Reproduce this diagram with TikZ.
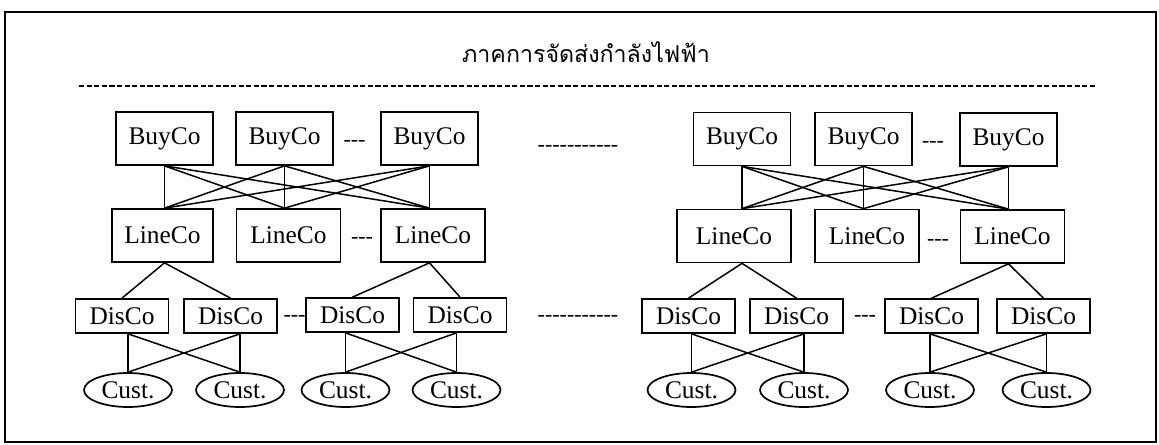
\documentclass[tikz,border=0pt]{standalone}
\usepackage{fontspec}
\setmainfont{Liberation Serif}
\newfontfamily\thaifont[Script=Thai]{Loma}
\usetikzlibrary{shapes.geometric}
% one hyphen, kept apart from the next so no dash ligature is formed
\newcommand{\shortdash}{-\kern0pt}

\begin{document}
\begin{tikzpicture}[
        x=0.5pt, y=-0.5pt, line width=0.75pt,
        co/.style={draw, rectangle, line width=0.85pt, inner sep=0pt,
          minimum height=26.5pt, font=\fontsize{12.7}{15}\selectfont},
        buyco/.style={co, minimum width=48.5pt},
        lineco/.style={co, minimum width=52pt},
        disco/.style={co, minimum width=46.5pt, minimum height=17pt},
        cust/.style={draw, ellipse, line width=0.85pt, inner sep=0pt,
          minimum width=44pt, minimum height=17pt, font=\fontsize{12.7}{15}\selectfont},
        gap/.style={inner sep=0pt, font=\fontsize{11}{13}\selectfont},
        ]
        \useasboundingbox (0,0) rectangle (1159,444);
        \draw[line width=1pt] (5,12.5) rectangle (1156,442);

        \node[anchor=base, font=\thaifont\fontsize{11.6}{14}\selectfont] (title) at (586,63) {ภาคการจัดส่งกำลังไฟฟ้า};
        \coordinate (sep_l) at (79,86);
        \coordinate (sep_r) at (1097,86);
        \draw[line width=1.1pt, dash pattern=on 2.6pt off 1.2pt] (sep_l) -- (sep_r);

        % left region
        \node[buyco]  (b_1) at (164.5,138.5) {BuyCo};
        \node[buyco]  (b_2) at (284.5,138.5) {BuyCo};
        \node[buyco]  (b_3) at (429.5,138.5) {BuyCo};
        \node[lineco, minimum width=50.5pt] (l_1) at (162.5,235.5) {LineCo};
        \node[lineco] (l_2) at (288.5,235.5) {LineCo};
        \node[lineco] (l_3) at (433,235.5)   {LineCo};
        \node[disco]  (d_1) at (122,316)     {DisCo};
        \node[disco]  (d_2) at (230.5,316)   {DisCo};
        \node[disco]  (d_3) at (352.5,315)   {DisCo};
        \node[disco]  (d_4) at (460,315)     {DisCo};
        \node[cust]   (c_1) at (128,390)     {Cust.};
        \node[cust]   (c_2) at (240,390)     {Cust.};
        \node[cust]   (c_3) at (345.5,390)   {Cust.};
        \node[cust]   (c_4) at (456.5,390)   {Cust.};
        \node[gap] (g_1) at (354.5,143) {\shortdash\shortdash\shortdash};
        \node[gap] (g_2) at (362,240)   {\shortdash\shortdash\shortdash};
        \node[gap] (g_3) at (294.5,318) {\shortdash\shortdash\shortdash};

        % right region
        \node[buyco]  (b_4) at (742,139)     {BuyCo};
        \node[buyco]  (b_5) at (863.5,139)   {BuyCo};
        \node[buyco]  (b_6) at (1008.5,139.5) {BuyCo};
        \node[lineco, minimum width=57pt] (l_4) at (734,236) {LineCo};
        \node[lineco] (l_5) at (867,236)     {LineCo};
        \node[lineco] (l_6) at (1012.5,236.5) {LineCo};
        \node[disco]  (d_5) at (688.5,316)   {DisCo};
        \node[disco]  (d_6) at (796.5,316)   {DisCo};
        \node[disco]  (d_7) at (931.5,316)   {DisCo};
        \node[disco]  (d_8) at (1043.5,316)  {DisCo};
        \node[cust]   (c_5) at (691.5,390)   {Cust.};
        \node[cust]   (c_6) at (804,390)     {Cust.};
        \node[cust]   (c_7) at (930,390)     {Cust.};
        \node[cust]   (c_8) at (1046.5,390)  {Cust.};
        \node[gap] (g_4) at (933,144) {\shortdash\shortdash\shortdash};
        \node[gap] (g_5) at (938,242) {\shortdash\shortdash\shortdash};
        \node[gap] (g_6) at (865,318) {\shortdash\shortdash\shortdash};

        % between the regions
        \node[gap] (m_1) at (578,148) {\shortdash\shortdash\shortdash\shortdash\shortdash\shortdash\shortdash\shortdash\shortdash\shortdash\shortdash};
        \node[gap] (m_2) at (578,318) {\shortdash\shortdash\shortdash\shortdash\shortdash\shortdash\shortdash\shortdash\shortdash\shortdash\shortdash};

        % every BuyCo to every LineCo of its region
        \foreach \i in {1,2,3}
          \foreach \j in {1,2,3}
            \draw (b_\i.south) -- (l_\j.north -| b_\j.south);
        \foreach \i in {4,5,6}
          \foreach \j in {4,5,6}
            \draw (b_\i.south) -- (l_\j.north -| b_\j.south);

        % LineCo down to DisCo
        \path (l_1.south -| b_1.south) edge (d_1.north) edge (d_2.north)
              (l_3.south -| b_3.south) edge (d_3.north) edge (d_4.north)
              (l_4.south -| b_4.south) edge (d_5.north) edge (d_6.north)
              (l_6.south -| b_6.south) edge (d_7.north) edge (d_8.north);

        % DisCo pairs crossed to their customers
        \foreach \p/\q in {1/2,3/4,5/6,7/8} {
          \draw (c_\p.north) -- (c_\p.north |- d_\p.south);
          \draw (c_\q.north) -- (c_\q.north |- d_\q.south);
          \draw (c_\p.north) -- (c_\q.north |- d_\q.south);
          \draw (c_\q.north) -- (c_\p.north |- d_\p.south);
        }
      \end{tikzpicture}
\end{document}
